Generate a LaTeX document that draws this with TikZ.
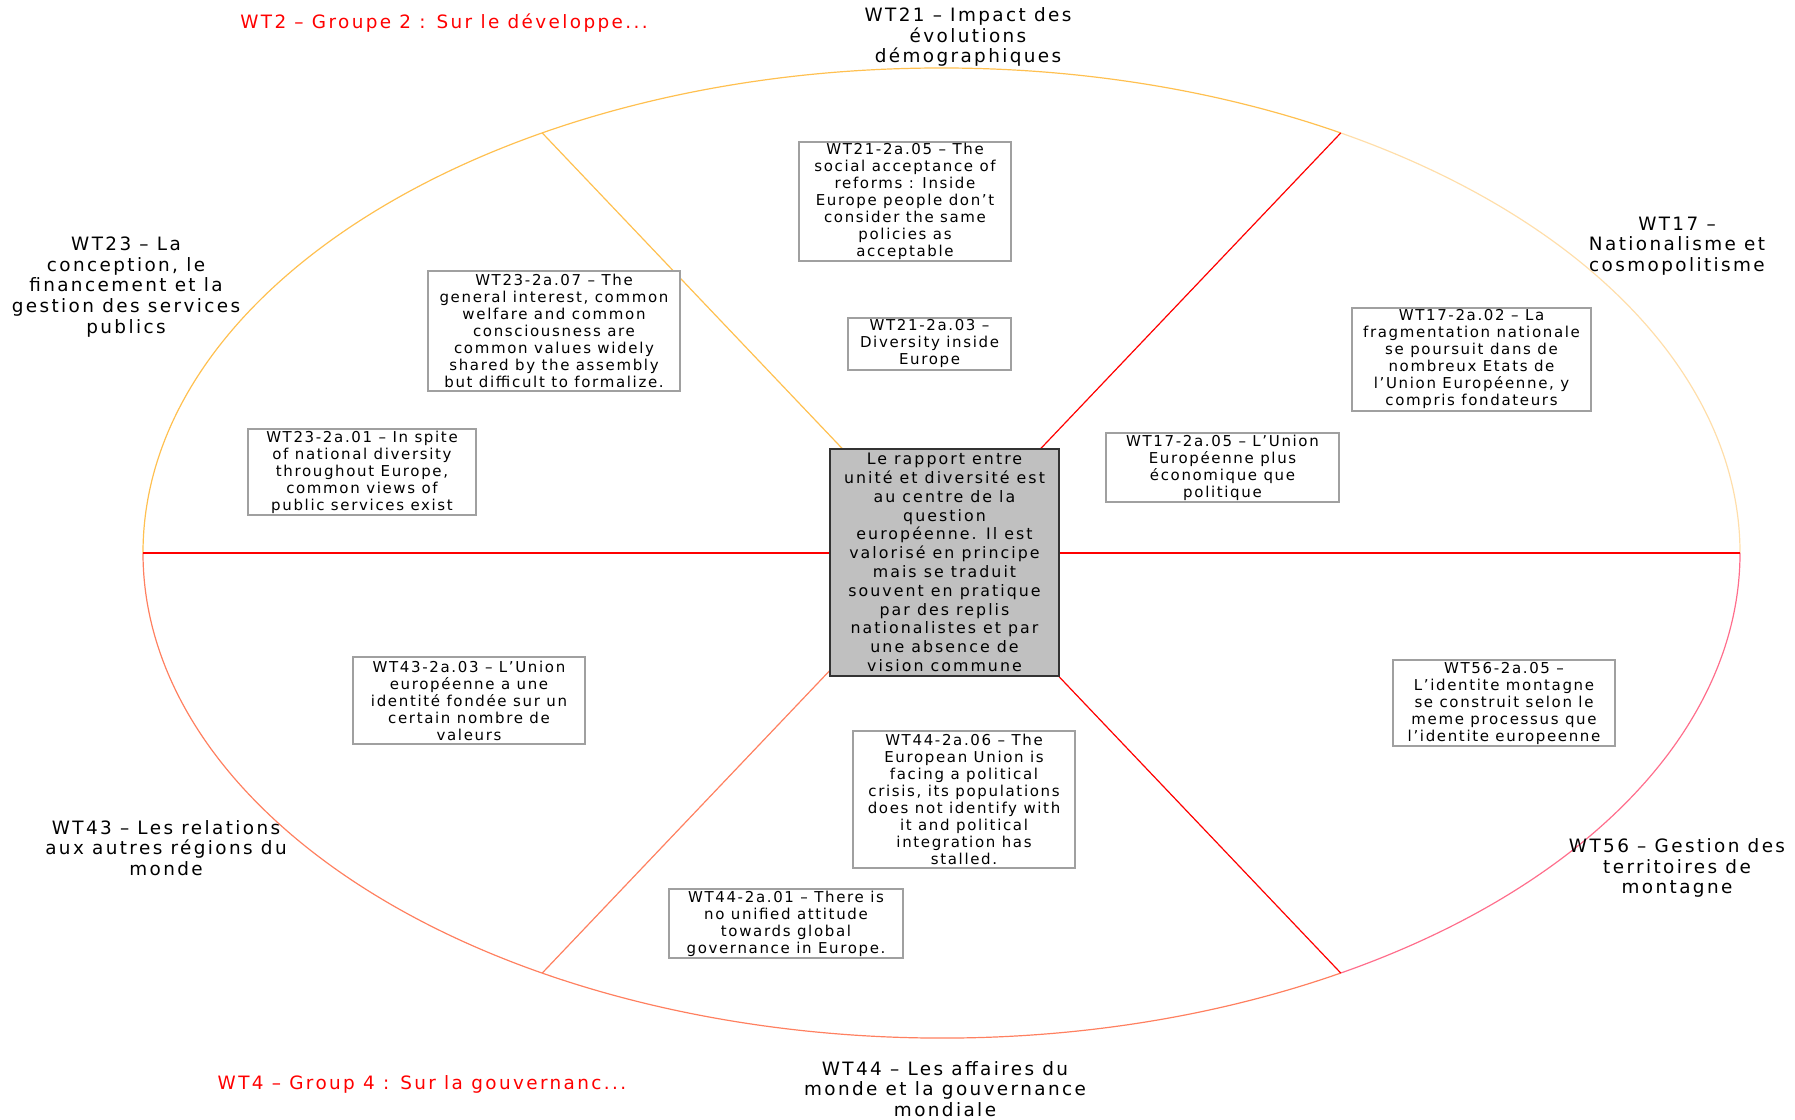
\documentclass[tikz,border=0pt]{standalone}
\usepackage{fontspec}
\setmainfont{DejaVu Sans}[LetterSpace=13]
\usepackage{tikz}
\usetikzlibrary{calc}
\definecolor{rimorange}{RGB}{255,192,80}
\definecolor{rimpale}{RGB}{255,222,170}
\definecolor{rimpink}{RGB}{255,110,140}
\definecolor{rimsalmon}{RGB}{255,128,96}
\definecolor{hubgray}{RGB}{192,192,192}
\definecolor{boxgray}{RGB}{160,160,160}

\begin{document}
\begin{tikzpicture}[x=1pt,y=1pt,
    idea/.style={draw=boxgray, line width=1.2pt, fill=white, inner sep=0pt, align=center,
      font=\fontsize{15}{17}\selectfont\addfontfeature{LetterSpace=11}},
    theme/.style={align=center, inner sep=0pt, font=\fontsize{18.4}{20.7}\selectfont},
    group/.style={text=red, inner sep=0pt, font=\fontsize{18.4}{20.7}\selectfont}]
  \useasboundingbox (0,0) rectangle (1795,1119);
  \coordinate (O) at (941.5,566);
  \foreach \a in {0,60,120,180,240,300}
    \coordinate (r\a) at ($(O)+(\a:798.5 and 485)$);

  % rim
  \draw[rimorange, line width=1.2pt] (r180) arc[start angle=180, end angle=60, x radius=798.5, y radius=485];
  \draw[rimpale, line width=1.2pt] (r60) arc[start angle=60, end angle=0, x radius=798.5, y radius=485];
  \draw[rimpink, line width=1.2pt] (r0) arc[start angle=0, end angle=-60, x radius=798.5, y radius=485];
  \draw[rimsalmon, line width=1.2pt] (r300) arc[start angle=-60, end angle=-180, x radius=798.5, y radius=485];

  % spokes
  \draw[red, line width=1.2pt] (O) -- (r0);
  \draw[red, line width=1.2pt] (O) -- (r60);
  \draw[rimorange, line width=1.2pt] (O) -- (r120);
  \draw[red, line width=1.2pt] (O) -- (r180);
  \draw[rimsalmon, line width=1.2pt] (O) -- (r240);
  \draw[red, line width=1.2pt] (O) -- (r300);

  \node (hub) at (944.5,556.5) [draw=black!80, line width=1.2pt, fill=hubgray, inner sep=0pt, align=center,
    minimum width=229, minimum height=227, font=\fontsize{15.8}{18.8}\selectfont]
    {Le rapport entre\\unité et diversité est\\au centre de la\\question\\européenne. Il est\\valorisé en principe\\mais se traduit\\souvent en pratique\\par des replis\\nationalistes et par\\une absence de\\vision commune};

  \node (a2105) at (905,917.5) [idea, minimum width=212, minimum height=119]
    {WT21-2a.05 – The\\social acceptance of\\reforms : Inside\\Europe people don’t\\consider the same\\policies as\\acceptable};
  \node (a2103) at (929.5,775) [idea, minimum width=163, minimum height=52]
    {WT21-2a.03 –\\Diversity inside\\Europe};
  \node (a2307) at (554,788) [idea, minimum width=252, minimum height=120]
    {WT23-2a.07 – The\\general interest, common\\welfare and common\\consciousness are\\common values widely\\shared by the assembly\\but difficult to formalize.};
  \node (a2301) at (362,647) [idea, minimum width=228, minimum height=86]
    {WT23-2a.01 – In spite\\of national diversity\\throughout Europe,\\common views of\\public services exist};
  \node (a1702) at (1471.5,759.5) [idea, minimum width=239, minimum height=103]
    {WT17-2a.02 – La\\fragmentation nationale\\se poursuit dans de\\nombreux Etats de\\l’Union Européenne, y\\compris fondateurs};
  \node (a1705) at (1222.5,651.5) [idea, minimum width=233, minimum height=69]
    {WT17-2a.05 – L’Union\\Européenne plus\\économique que\\politique};
  \node (a4303) at (469,418.5) [idea, minimum width=232, minimum height=87]
    {WT43-2a.03 – L’Union\\européenne a une\\identité fondée sur un\\certain nombre de\\valeurs};
  \node (a4401) at (786,195.5) [idea, minimum width=234, minimum height=69]
    {WT44-2a.01 – There is\\no unified attitude\\towards global\\governance in Europe.};
  \node (a4406) at (964,319.5) [idea, minimum width=222, minimum height=137]
    {WT44-2a.06 – The\\European Union is\\facing a political\\crisis, its populations\\does not identify with\\it and political\\integration has\\stalled.};
  \node (a5605) at (1504,416) [idea, minimum width=222, minimum height=86]
    {WT56-2a.05 –\\L’identite montagne\\se construit selon le\\meme processus que\\l’identite europeenne};

  \node (wt21) at (968,1082) [theme] {WT21 – Impact des\\évolutions\\démographiques};
  \node (wt17) at (1677,873) [theme] {WT17 –\\Nationalisme et\\cosmopolitisme};
  \node (wt23) at (126,832) [theme] {WT23 – La\\conception, le\\financement et la\\gestion des services\\publics};
  \node (wt43) at (166,271) [theme] {WT43 – Les relations\\aux autres régions du\\monde};
  \node (wt44) at (945,30) [theme] {WT44 – Les affaires du\\monde et la gouvernance\\mondiale};
  \node (wt56) at (1677,251) [theme] {WT56 – Gestion des\\territoires de\\montagne};

  \node (wt2) at (444,1096) [group] {WT2 – Groupe 2 : Sur le développe...};
  \node (wt4) at (422,35) [group] {WT4 – Group 4 : Sur la gouvernanc...};
\end{tikzpicture}
\end{document}
